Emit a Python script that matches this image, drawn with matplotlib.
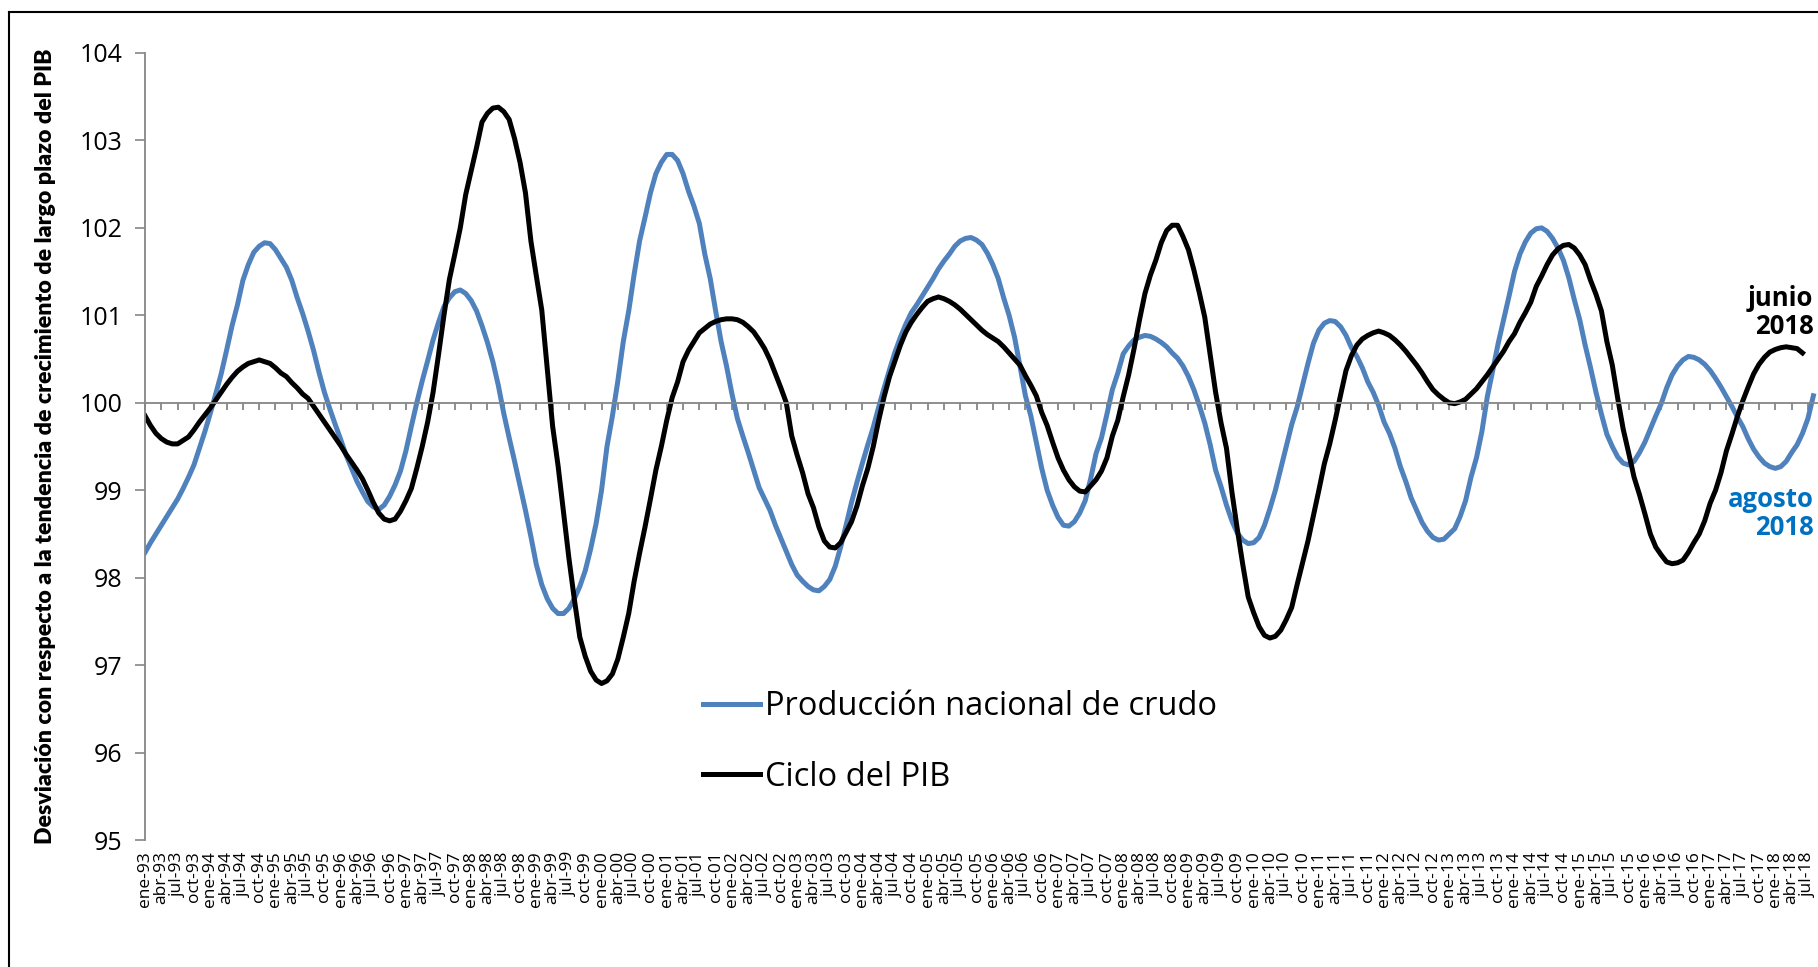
import matplotlib
matplotlib.use("Agg")
import matplotlib.pyplot as plt
from matplotlib.lines import Line2D

# meses de ene-93 a ago-18
meses = ['ene', 'feb', 'mar', 'abr', 'may', 'jun', 'jul', 'ago', 'sep', 'oct', 'nov', 'dic']
anios = list(range(1993, 2019))

crudo = [
    98.29, 98.40, 98.50, 98.60, 98.70, 98.80, 98.90, 99.02, 99.15, 99.29, 99.48, 99.67,
    99.88, 100.10, 100.33, 100.60, 100.88, 101.12, 101.40, 101.58, 101.72, 101.79, 101.83, 101.82,
    101.75, 101.65, 101.55, 101.40, 101.20, 101.02, 100.82, 100.60, 100.35, 100.12, 99.93, 99.75,
    99.58, 99.40, 99.25, 99.10, 98.98, 98.87, 98.81, 98.78, 98.83, 98.93, 99.06, 99.22,
    99.45, 99.73, 100.00, 100.25, 100.48, 100.72, 100.92, 101.10, 101.20, 101.27, 101.29, 101.25,
    101.17, 101.05, 100.88, 100.69, 100.47, 100.20, 99.88, 99.60, 99.33, 99.05, 98.77, 98.47,
    98.15, 97.92, 97.76, 97.65, 97.59, 97.59, 97.65, 97.76, 97.90, 98.08, 98.33, 98.62,
    99.00, 99.50, 99.85, 100.25, 100.70, 101.05, 101.47, 101.85, 102.12, 102.40, 102.62, 102.75,
    102.84, 102.84, 102.77, 102.62, 102.42, 102.25, 102.05, 101.70, 101.42, 101.05, 100.70, 100.42,
    100.10, 99.82, 99.62, 99.43, 99.23, 99.03, 98.90, 98.77, 98.60, 98.45, 98.30, 98.15,
    98.03, 97.96, 97.90, 97.86, 97.85, 97.90, 97.98, 98.13, 98.35, 98.60, 98.86, 99.09,
    99.31, 99.52, 99.72, 99.95, 100.17, 100.38, 100.58, 100.75, 100.90, 101.03, 101.12, 101.22,
    101.32, 101.42, 101.53, 101.62, 101.70, 101.79, 101.85, 101.88, 101.89, 101.86, 101.81, 101.71,
    101.58, 101.42, 101.20, 101.00, 100.75, 100.42, 100.08, 99.85, 99.55, 99.25, 99.00, 98.83,
    98.69, 98.60, 98.59, 98.64, 98.74, 98.88, 99.13, 99.42, 99.60, 99.87, 100.15, 100.34,
    100.56, 100.65, 100.72, 100.75, 100.77, 100.76, 100.73, 100.69, 100.64, 100.57, 100.51, 100.42,
    100.30, 100.15, 99.97, 99.77, 99.52, 99.23, 99.04, 98.83, 98.65, 98.51, 98.43, 98.39,
    98.40, 98.46, 98.60, 98.79, 99.00, 99.25, 99.50, 99.75, 99.95, 100.20, 100.45, 100.68,
    100.83, 100.91, 100.94, 100.93, 100.87, 100.77, 100.63, 100.53, 100.40, 100.24, 100.12, 99.97,
    99.78, 99.65, 99.48, 99.27, 99.10, 98.91, 98.77, 98.63, 98.53, 98.46, 98.43, 98.44,
    98.50, 98.56, 98.70, 98.88, 99.15, 99.37, 99.67, 100.07, 100.37, 100.68, 100.95, 101.22,
    101.50, 101.70, 101.84, 101.94, 101.99, 102.00, 101.96, 101.88, 101.77, 101.63, 101.43, 101.18,
    100.95, 100.66, 100.40, 100.12, 99.87, 99.64, 99.50, 99.38, 99.31, 99.29, 99.33, 99.43,
    99.55, 99.70, 99.85, 99.99, 100.17, 100.32, 100.42, 100.49, 100.53, 100.52, 100.49, 100.44,
    100.37, 100.28, 100.18, 100.07, 99.96, 99.84, 99.73, 99.59, 99.47, 99.38, 99.31, 99.27,
    99.25, 99.27, 99.33, 99.43, 99.52, 99.65, 99.82, 100.08,
]

pib = [
    99.85, 99.74, 99.65, 99.59, 99.55, 99.53, 99.53, 99.57, 99.61, 99.69, 99.78, 99.86,
    99.94, 100.03, 100.12, 100.21, 100.29, 100.36, 100.41, 100.45, 100.47, 100.49, 100.47, 100.45,
    100.40, 100.34, 100.30, 100.23, 100.17, 100.10, 100.05, 99.96, 99.87, 99.78, 99.69, 99.60,
    99.51, 99.41, 99.32, 99.23, 99.13, 99.00, 98.86, 98.74, 98.67, 98.65, 98.67, 98.76,
    98.88, 99.02, 99.25, 99.50, 99.78, 100.12, 100.55, 101.00, 101.41, 101.70, 102.00, 102.38,
    102.65, 102.92, 103.21, 103.31, 103.37, 103.38, 103.33, 103.24, 103.02, 102.75, 102.40, 101.85,
    101.45, 101.06, 100.40, 99.73, 99.28, 98.75, 98.22, 97.75, 97.32, 97.10, 96.93, 96.83,
    96.79, 96.82, 96.90, 97.07, 97.32, 97.59, 97.96, 98.28, 98.58, 98.90, 99.23, 99.50,
    99.80, 100.06, 100.24, 100.47, 100.60, 100.70, 100.80, 100.85, 100.90, 100.93, 100.95, 100.96,
    100.96, 100.95, 100.92, 100.87, 100.81, 100.72, 100.62, 100.49, 100.33, 100.17, 100.00, 99.62,
    99.40, 99.20, 98.96, 98.80, 98.58, 98.42, 98.35, 98.34, 98.40, 98.52, 98.64, 98.82,
    99.05, 99.25, 99.50, 99.80, 100.07, 100.30, 100.48, 100.66, 100.81, 100.92, 101.01, 101.09,
    101.16, 101.19, 101.21, 101.19, 101.16, 101.12, 101.07, 101.01, 100.95, 100.89, 100.83, 100.78,
    100.74, 100.70, 100.64, 100.57, 100.50, 100.43, 100.31, 100.20, 100.08, 99.89, 99.74, 99.55,
    99.37, 99.23, 99.12, 99.04, 98.99, 98.98, 99.05, 99.12, 99.22, 99.37, 99.62, 99.80,
    100.07, 100.32, 100.62, 100.95, 101.25, 101.46, 101.63, 101.83, 101.97, 102.03, 102.03, 101.90,
    101.75, 101.52, 101.26, 100.98, 100.55, 100.12, 99.77, 99.48, 98.98, 98.55, 98.15, 97.78,
    97.60, 97.44, 97.34, 97.31, 97.33, 97.40, 97.52, 97.66, 97.92, 98.17, 98.42, 98.71,
    99.00, 99.30, 99.53, 99.80, 100.09, 100.37, 100.54, 100.66, 100.73, 100.77, 100.80, 100.82,
    100.80, 100.77, 100.72, 100.66, 100.59, 100.51, 100.43, 100.34, 100.24, 100.15, 100.09, 100.04,
    100.00, 99.99, 100.01, 100.04, 100.10, 100.16, 100.24, 100.32, 100.41, 100.50, 100.59, 100.70,
    100.79, 100.92, 101.03, 101.15, 101.33, 101.45, 101.58, 101.69, 101.76, 101.80, 101.81, 101.77,
    101.69, 101.58, 101.40, 101.24, 101.05, 100.70, 100.43, 100.05, 99.70, 99.43, 99.15, 98.95,
    98.73, 98.50, 98.35, 98.26, 98.18, 98.16, 98.17, 98.20, 98.29, 98.40, 98.50, 98.65,
    98.85, 99.00, 99.20, 99.45, 99.64, 99.84, 100.02, 100.18, 100.33, 100.44, 100.52, 100.58,
    100.61, 100.63, 100.64, 100.63, 100.62, 100.57,
]

etiquetas = [f"{m}-{str(a)[2:]}" for a in anios for m in meses][:len(crudo)]

gris = '#868686'
azul = '#4F81BD'

fig = plt.figure(figsize=(18.18, 9.67), dpi=100)
ax = fig.add_axes([0.0798, 0.1313, 0.9864, 0.8139])

ax.plot(range(len(crudo)), crudo, color=azul, lw=3.6, solid_joinstyle='round',
        label='Producción nacional de crudo')
ax.plot(range(len(pib)), pib, color='black', lw=3.6, solid_joinstyle='round',
        label='Ciclo del PIB')

ax.set_xlim(0, 330)
ax.set_ylim(95, 104)
ax.set_yticks(range(95, 105))
ax.tick_params(axis='y', direction='out', length=7, width=1.2, color=gris,
               labelsize=18, pad=9)
for lab in ax.get_yticklabels():
    lab.set_fontfamily('Open Sans')

for s in ['top', 'right']:
    ax.spines[s].set_visible(False)
ax.spines['left'].set_color(gris)
ax.spines['left'].set_linewidth(1.3)
ax.spines['bottom'].set_position(('data', 100))
ax.spines['bottom'].set_color(gris)
ax.spines['bottom'].set_linewidth(1.3)

pos = list(range(0, len(etiquetas), 3))
ax.set_xticks(pos)
ax.tick_params(axis='x', direction='out', length=5, width=1.3, color=gris,
               labelbottom=False)

sec = ax.secondary_xaxis('bottom')
sec.set_xticks(pos)
sec.set_xticklabels([etiquetas[i] for i in pos], rotation=90, fontsize=12.5,
                    family='Open Sans', va='top')
sec.tick_params(axis='x', length=0, pad=8)
sec.spines['bottom'].set_visible(False)

ylab = fig.text(46 / 1818, 1 - 446 / 967,
                'Desviación con respecto a la tendencia de crecimiento de largo plazo del PIB',
                rotation=90, ha='center', va='center', fontsize=16, fontweight='heavy',
                family='Lato')
# ajustar el tamaño para que ocupe el alto del eje
fig.canvas.draw()
alto = ylab.get_window_extent().height
ylab.set_fontsize(16 * 792 / alto)

ax.legend(loc='upper left', bbox_to_anchor=(703 / 1818, 1 - 690 / 967),
          bbox_transform=fig.transFigure, frameon=False,
          prop={'family': 'Open Sans', 'size': 23.5}, handlelength=1.75,
          handletextpad=0.15, labelspacing=1.15, borderpad=0, borderaxespad=0)

ax.text(307.0, 101.03, 'junio\n2018', ha='right', va='center', fontsize=18.5,
        fontweight='bold', family='Open Sans', color='black', multialignment='right',
        linespacing=1.05)
ax.text(307.0, 98.73, 'agosto\n2018', ha='right', va='center', fontsize=18.5,
        fontweight='bold', family='Open Sans', color='#0070C0', multialignment='right',
        linespacing=1.05)

# marco del grafico
fig.add_artist(Line2D([9 / 1818, 9 / 1818], [0, 1 - 12 / 967], color='black', lw=1.5))
fig.add_artist(Line2D([9 / 1818, 1], [1 - 12 / 967, 1 - 12 / 967], color='black', lw=1.5))

fig.savefig('out.png', dpi=100)
